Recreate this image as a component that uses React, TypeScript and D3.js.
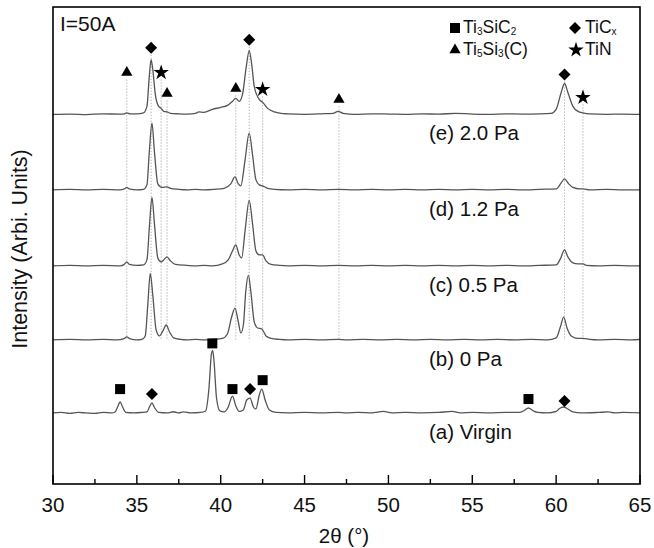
import React from 'react';
import * as d3 from 'd3';

// 2θ ticks
const xMajor = [30, 35, 40, 45, 50, 55, 60, 65];
const xMinor = [32.5, 37.5, 42.5, 47.5, 52.5, 57.5, 62.5];

// vertical offsets of each pattern (arb. units)
const traceNames = ['(a) Virgin', '(b) 0 Pa', '(c) 0.5 Pa', '(d) 1.2 Pa', '(e) 2.0 Pa'];
const traceOffsets = [715, 1450, 2195, 2960, 3720];

// patterns, [2θ, intensity above own baseline]
const virgin = [
  [30, 0], [30.5, 5], [31, -5], [31.5, 5], [32, 0], [32.5, -5], [33, 5], [33.5, 0], [33.7, 10], [33.85, 60],
  [34.0, 110], [34.15, 60], [34.35, 5], [34.8, 0], [35.3, 5], [35.6, 10], [35.75, 60], [35.9, 100], [36.05, 55],
  [36.3, 5], [36.8, 0], [37.2, 12], [37.5, 0], [37.8, 10], [38.2, 0], [38.8, 5], [39.1, 20], [39.3, 250],
  [39.45, 600], [39.52, 630], [39.6, 520], [39.75, 150], [39.95, 20], [40.2, 10], [40.45, 60], [40.7, 170],
  [40.9, 70], [41.1, 15], [41.35, 30], [41.55, 130], [41.75, 150], [41.95, 60], [42.1, 40], [42.3, 180],
  [42.45, 240], [42.65, 130], [42.9, 30], [43.3, 5], [44, 0], [45, 5], [46, 0], [47, 5], [47.5, 0], [48.2, 5],
  [49, 0], [49.7, 15], [50.2, 0], [51, 5], [52, 0], [53, 5], [53.8, 15], [54.3, 0], [55, 5], [56, 0], [57, 5],
  [57.8, 5], [58.1, 25], [58.35, 50], [58.6, 25], [58.9, 5], [59.5, 0], [60.0, 15], [60.2, 45], [60.45, 60],
  [60.7, 40], [61.0, 10], [61.5, 0], [62.5, 5], [63.1, 10], [63.5, 0], [64, 5], [65, 0],
];
const pa0 = [
  [30, 0], [31, 5], [32, 0], [33, 5], [33.8, 0], [34.2, 10], [34.4, 30], [34.6, 10], [35.0, 0], [35.3, 5],
  [35.5, 40], [35.65, 350], [35.8, 670], [35.95, 450], [36.15, 100], [36.35, 40], [36.55, 90], [36.75, 150],
  [36.95, 80], [37.2, 20], [37.6, 5], [38, 0], [38.5, 5], [39, 0], [39.5, 5], [40.1, 15], [40.4, 60],
  [40.65, 230], [40.85, 320], [41.05, 180], [41.2, 70], [41.35, 150], [41.5, 500], [41.65, 650], [41.8, 480],
  [42.0, 180], [42.2, 120], [42.45, 110], [42.7, 40], [43.0, 15], [43.5, 5], [44, 0], [45, 5], [46, 0],
  [47, 5], [47.5, 0], [48.5, 5], [49.5, 0], [50.5, 5], [51.5, 0], [52.5, 5], [53.5, 0], [54.5, 5], [55.5, 0],
  [56.5, 5], [57.5, 0], [58.5, 5], [59.5, 0], [60.0, 20], [60.25, 130], [60.45, 230], [60.65, 120],
  [60.9, 40], [61.3, 15], [61.6, 15], [62, 5], [62.5, 0], [63.5, 5], [64.5, 0], [65, 5],
];
const pa05 = [
  [30, 0], [31, 5], [32, 0], [33, 5], [34, 0], [34.25, 15], [34.4, 40], [34.55, 15], [35, 5], [35.4, 10],
  [35.6, 60], [35.75, 400], [35.9, 690], [36.05, 420], [36.25, 80], [36.45, 40], [36.6, 60], [36.8, 90],
  [37.0, 50], [37.3, 15], [38, 5], [38.5, 0], [39, 5], [39.5, 0], [40.1, 20], [40.45, 60], [40.7, 150],
  [40.9, 210], [41.1, 110], [41.25, 80], [41.45, 350], [41.7, 660], [41.9, 420], [42.1, 150], [42.3, 110],
  [42.5, 110], [42.7, 50], [43.0, 15], [43.5, 5], [44, 0], [45, 5], [46, 0], [47, 5], [48, 0], [49, 5],
  [50, 0], [51, 5], [52, 0], [53, 5], [54, 0], [55, 5], [56, 0], [57, 5], [58, 0], [59, 5], [60.0, 10],
  [60.25, 70], [60.5, 160], [60.7, 90], [61.0, 30], [61.3, 20], [61.6, 20], [61.8, 5], [62.5, 0], [63.5, 5],
  [64.5, 0], [65, 0],
];
const pa12 = [
  [30, 0], [31, 5], [32, 0], [33, 5], [34, 0], [34.25, 10], [34.4, 25], [34.55, 10], [35, 0], [35.4, 5],
  [35.6, 50], [35.75, 400], [35.9, 670], [36.05, 380], [36.25, 60], [36.5, 25], [36.8, 30], [37.0, 15],
  [37.5, 5], [38, 0], [38.5, 5], [39, 0], [39.6, 5], [40.2, 15], [40.6, 60], [40.85, 130], [41.05, 60],
  [41.2, 40], [41.45, 300], [41.7, 570], [41.9, 350], [42.1, 100], [42.3, 50], [42.5, 40], [42.8, 15],
  [43.2, 5], [44, 0], [45, 5], [46, 0], [47, 5], [48, 0], [49, 5], [50, 0], [51, 5], [52, 0], [53, 5],
  [54, 0], [55, 5], [56, 0], [57, 5], [58, 0], [59, 5], [60.0, 10], [60.3, 70], [60.5, 110], [60.75, 60],
  [61.0, 25], [61.4, 10], [61.6, 10], [62, 0], [63, 5], [64, 0], [65, 0],
];
const pa20 = [
  [30, 0], [31, 3], [32, -3], [33, 5], [34, 2], [34.25, 5], [34.4, 15], [34.6, 5], [35.0, 5], [35.4, 15],
  [35.6, 80], [35.75, 400], [35.85, 550], [35.95, 450], [36.1, 200], [36.3, 80], [36.45, 60], [36.6, 30],
  [36.8, 25], [37.0, 10], [37.5, 5], [38.0, 3], [38.5, 10], [38.7, 25], [39.0, 20], [39.5, 50], [40.0, 70],
  [40.4, 90], [40.7, 130], [40.9, 160], [41.1, 130], [41.3, 200], [41.5, 450], [41.7, 640], [41.85, 500],
  [42.0, 280], [42.3, 150], [42.5, 120], [42.8, 60], [43.2, 25], [43.6, 10], [44, 5], [45, 0], [46, 5],
  [46.7, 10], [47.0, 30], [47.3, 10], [48, 0], [49, 5], [50, 3], [51, 0], [52, 5], [53, 2], [54, 10],
  [55, 3], [56, 0], [57, 5], [58, 3], [59, 5], [59.7, 10], [60.0, 50], [60.3, 220], [60.5, 310], [60.7, 220],
  [61.0, 80], [61.3, 30], [61.6, 15], [62, 5], [63, 0], [64, 3], [65, 0],
];
const patterns = [virgin, pa0, pa05, pa12, pa20];

// phase markers: [phase, 2θ, height above baseline]
const markersE = [
  ['triangle', 34.4, 420], ['diamond', 35.85, 670], ['star', 36.45, 420], ['triangle', 36.8, 210],
  ['triangle', 40.9, 260], ['diamond', 41.7, 750], ['star', 42.5, 250], ['triangle', 47.05, 150],
  ['diamond', 60.5, 400], ['star', 61.6, 170],
];
const markersA = [
  ['square', 34.0, 240], ['diamond', 35.9, 190], ['square', 39.5, 700], ['square', 40.7, 240],
  ['diamond', 41.75, 240], ['square', 42.5, 330], ['square', 58.35, 140], ['diamond', 60.5, 120],
];

const W = 654;
const H = 548;
const left = 53, right = 640, top = 7, bottom = 484;
const font = '"Liberation Sans", Arial, sans-serif';

const x = d3.scaleLinear().domain([30, 65]).range([left, right]);
const y = d3.scaleLinear().domain([0, 4800]).range([bottom, top]);

const symbolPath = (kind: string) => {
  if (kind === 'square') return d3.symbol(d3.symbolSquare, 100)();
  if (kind === 'diamond') return d3.symbol(d3.symbolSquare, 72)();
  if (kind === 'triangle') return d3.symbol(d3.symbolTriangle, 55)();
  return d3.symbol(d3.symbolStar, 75)();
};

const Marker = ({ kind, cx, cy }: { kind: string; cx: number; cy: number }) => (
  <path
    d={symbolPath(kind) || ''}
    transform={`translate(${cx},${cy})${kind === 'diamond' ? ' rotate(45)' : ''}`}
    fill="#000"
  />
);

export default function App() {
  const offE = traceOffsets[4];
  const offB = traceOffsets[1];
  const offA = traceOffsets[0];

  return (
    <div style={{ position: 'absolute', left: 0, top: 0 }}>
      <svg width={W} height={H} style={{ display: 'block', background: '#fff' }}>
        {/* reference lines */}
        {markersE.map(([kind, t, h], i) => (
          <line
            key={'r' + i}
            x1={x(t as number)}
            x2={x(t as number)}
            y1={y(offE + (h as number)) + 7}
            y2={y(offB)}
            stroke="#999"
            strokeWidth={1}
            strokeDasharray="1,2"
          />
        ))}

        {/* patterns */}
        {patterns.map((pts, i) => {
          const line = d3
            .line<number[]>()
            .x((d) => x(d[0]))
            .y((d) => y(d[1] + traceOffsets[i]))
            .curve(d3.curveMonotoneX);
          return <path key={'p' + i} d={line(pts) || ''} fill="none" stroke="#555" strokeWidth={1.3} />;
        })}

        {/* trace labels */}
        {traceNames.map((name, i) => (
          <text
            key={'l' + i}
            x={429}
            y={y(traceOffsets[i]) + 26}
            fontFamily={font}
            fontSize={20.5}
            fill="#111"
          >
            {name}
          </text>
        ))}

        {markersE.map(([kind, t, h], i) => (
          <Marker key={'me' + i} kind={kind as string} cx={x(t as number)} cy={y(offE + (h as number))} />
        ))}
        {markersA.map(([kind, t, h], i) => (
          <Marker key={'ma' + i} kind={kind as string} cx={x(t as number)} cy={y(offA + (h as number))} />
        ))}

        {/* frame */}
        <rect x={left} y={top} width={right - left} height={bottom - top} fill="none" stroke="#000" strokeWidth={1.6} />
        {xMajor.map((t) => (
          <g key={'t' + t}>
            <line x1={x(t)} x2={x(t)} y1={bottom} y2={bottom - 9} stroke="#000" strokeWidth={1.4} />
            <text x={x(t)} y={512} textAnchor="middle" fontFamily={font} fontSize={20.5} fill="#111">
              {t}
            </text>
          </g>
        ))}
        {xMinor.map((t) => (
          <line key={'m' + t} x1={x(t)} x2={x(t)} y1={bottom} y2={bottom - 5} stroke="#000" strokeWidth={1.4} />
        ))}

        <text x={344} y={543} textAnchor="middle" fontFamily={font} fontSize={20.5} fill="#111">
          2θ (°)
        </text>
        <text
          transform="translate(27,249) rotate(-90)"
          textAnchor="middle"
          fontFamily={font}
          fontSize={21.5}
          fill="#111"
        >
          Intensity (Arbi. Units)
        </text>

        <text x={60} y={31} fontFamily={font} fontSize={21} fill="#111">
          I=50A
        </text>

        {/* legend */}
        <Marker kind="square" cx={455} cy={28} />
        <text x={463} y={33} fontFamily={font} fontSize={17.5} fill="#111">
          Ti<tspan fontSize={10} dy={2}>3</tspan>
          <tspan dy={-2}>SiC</tspan>
          <tspan fontSize={10} dy={2}>2</tspan>
        </text>
        <Marker kind="diamond" cx={575} cy={28} />
        <text x={585} y={33} fontFamily={font} fontSize={17.5} fill="#111">
          TiC<tspan fontSize={10} dy={2}>x</tspan>
        </text>
        <Marker kind="triangle" cx={455} cy={50} />
        <text x={463} y={55} fontFamily={font} fontSize={17.5} fill="#111">
          Ti<tspan fontSize={10} dy={2}>5</tspan>
          <tspan dy={-2}>Si</tspan>
          <tspan fontSize={10} dy={2}>3</tspan>
          <tspan dy={-2}>(C)</tspan>
        </text>
        <Marker kind="star" cx={576} cy={50} />
        <text x={585} y={55} fontFamily={font} fontSize={17.5} fill="#111">
          TiN
        </text>
      </svg>
    </div>
  );
}
